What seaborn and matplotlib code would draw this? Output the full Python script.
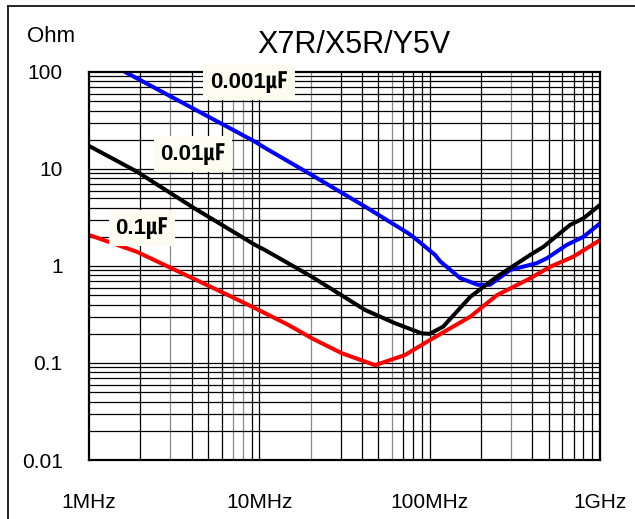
import matplotlib
matplotlib.use("Agg")
import matplotlib.pyplot as plt
import seaborn as sns
import pandas as pd
from matplotlib.lines import Line2D
from matplotlib.ticker import FixedLocator, FixedFormatter, NullLocator

sns.set_theme(style="white")
plt.rcParams["font.family"] = ["Liberation Sans", "Noto Sans CJK KR", "DejaVu Sans"]

# Impedance vs frequency (frequency in MHz, impedance in Ohm)
freq_001 = [1.63, 9.44, 10.8, 20.3, 41.8, 75, 82, 107.6, 115, 151, 192, 226, 297, 425, 487, 638, 799, 1000]
imp_001 = [100, 19.1, 16.5, 8.67, 4.09, 2.17, 1.93, 1.30, 1.12, 0.75, 0.64, 0.64, 0.91, 1.07, 1.20, 1.65, 2.0, 2.75]

freq_01 = [1.0, 1.91, 4.01, 9.44, 10.8, 20.3, 41.8, 62.6, 89.9, 100, 120, 173, 248, 389, 466, 667, 799, 1000]
imp_01 = [17.3, 9.4, 4.09, 1.65, 1.46, 0.776, 0.352, 0.257, 0.202, 0.20, 0.237, 0.48, 0.776, 1.30, 1.58, 2.65, 3.1, 4.26]

freq_1 = [1.0, 1.91, 6.9, 9.44, 14.8, 20.3, 30.5, 47.8, 71.7, 100, 173, 248, 389, 509, 698, 1000]
imp_1 = [2.09, 1.40, 0.48, 0.367, 0.247, 0.18, 0.126, 0.095, 0.121, 0.172, 0.30, 0.50, 0.746, 0.98, 1.25, 1.85]

series_names = ["0.001㎌", "0.01㎌", "0.1㎌"]
series_colors = ["#0000ff", "#000000", "#ff0000"]
label_pos = [(8.7, 78), (4.08, 14.3), (2.05, 2.46)]

x_tick_vals = [1, 10, 100, 1000]
x_tick_labels = ["1MHz", "10MHz", "100MHz", "1GHz"]
y_tick_vals = [0.01, 0.1, 1, 10, 100]
y_tick_labels = ["0.01", "0.1", "1", "10", "100"]

df = pd.concat([
    pd.DataFrame({"freq": f, "imp": z, "cap": name})
    for f, z, name in zip([freq_001, freq_01, freq_1], [imp_001, imp_01, imp_1], series_names)
], ignore_index=True)

W, H = 635, 519
fig = plt.figure(figsize=(W / 100, H / 100), dpi=100)
fig.patch.set_facecolor("white")
ax = fig.add_axes([89 / W, 1 - 460 / H, 511 / W, 388 / H])
ax.set_facecolor("white")

ax.set_xscale("log")
ax.set_yscale("log")
ax.set_xlim(1, 1000)
ax.set_ylim(0.01, 100)

# log grid: every 1..9 step of each decade
gray_lines = {3, 7, 8, 20, 60, 300}
for d in [1, 10, 100]:
    for k in range(1, 10):
        v = k * d
        if v == 1:
            continue
        c = "#8a8a8a" if v in gray_lines else "black"
        ax.axvline(v, color=c, lw=0.9, zorder=1)
for d in [0.01, 0.1, 1, 10]:
    for k in range(1, 10):
        v = k * d
        if v == 0.01:
            continue
        ax.axhline(v, color="black", lw=0.9, zorder=1)

sns.lineplot(data=df, x="freq", y="imp", hue="cap", palette=dict(zip(series_names, series_colors)),
             hue_order=series_names, sort=False, estimator=None, lw=2.9, legend=False, ax=ax, zorder=3)
ax.set_xlim(1, 1000)
ax.set_ylim(0.01, 100)
ax.set_xlabel("")
ax.set_ylabel("")

for name, (fx, fy) in zip(series_names, label_pos):
    ax.text(fx, fy, name, ha="center", va="center", fontsize=16, fontweight="bold", color="black",
            bbox=dict(boxstyle="square,pad=0.3", fc="#fdfcf0", ec="none"), zorder=5)

ax.xaxis.set_major_locator(FixedLocator(x_tick_vals))
ax.xaxis.set_major_formatter(FixedFormatter(x_tick_labels))
ax.xaxis.set_minor_locator(NullLocator())
ax.yaxis.set_major_locator(FixedLocator(y_tick_vals))
ax.yaxis.set_major_formatter(FixedFormatter(y_tick_labels))
ax.yaxis.set_minor_locator(NullLocator())
ax.tick_params(axis="x", length=0, pad=24, labelsize=15, colors="black")
ax.tick_params(axis="y", length=0, pad=19, labelsize=15, colors="black")

for s in ax.spines.values():
    s.set_color("black")
    s.set_linewidth(1.6)
    s.set_zorder(4)

fig.text(354 / W, 1 - 45 / H, "X7R/X5R/Y5V", ha="center", va="center", fontsize=22, color="black")
fig.text(27 / W, 1 - 37 / H, "Ohm", ha="left", va="center", fontsize=16, color="black")

# outer frame
fig.add_artist(Line2D([8 / W, 8 / W], [0, 1 - 6 / H], transform=fig.transFigure, color="black", lw=1.2))
fig.add_artist(Line2D([8 / W, 1], [1 - 6 / H, 1 - 6 / H], transform=fig.transFigure, color="black", lw=1.2))

fig.savefig("out.png", dpi=100)
